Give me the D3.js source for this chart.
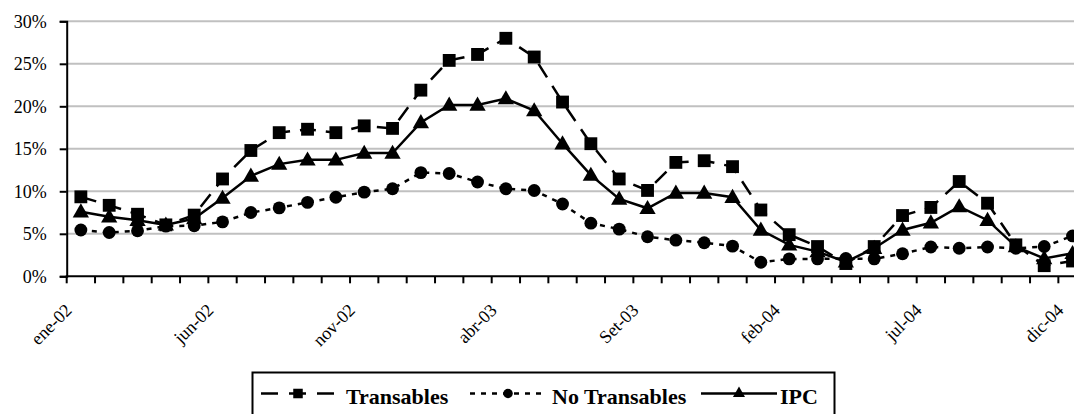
<!DOCTYPE html>
<html><head><meta charset="utf-8">
<script src="https://cdn.jsdelivr.net/npm/d3@7"></script>
<style>
html,body{margin:0;padding:0;background:#fff;overflow:hidden;}
svg{display:block;}
svg text{font-family:"Liberation Serif","Times New Roman",serif !important;fill:#000;}
</style></head>
<body>
<svg id="chart" width="1074" height="414"></svg>
<script>
const categories = ["ene-02","feb-02","mar-02","abr-02","may-02","jun-02","jul-02","ago-02","set-02","oct-02","nov-02","dic-02",
  "ene-03","feb-03","mar-03","abr-03","may-03","jun-03","jul-03","ago-03","Set-03","oct-03","nov-03","dic-03",
  "ene-04","feb-04","mar-04","abr-04","may-04","jun-04","jul-04","ago-04","set-04","oct-04","nov-04","dic-04"];
const shownLabels = ["ene-02","jun-02","nov-02","abr-03","Set-03","feb-04","jul-04","dic-04"];
const transables = [9.35,8.35,7.3,6.05,7.2,11.45,14.8,16.9,17.3,16.9,17.7,17.4,21.9,25.4,26.1,28.0,25.8,20.5,15.6,11.45,10.1,13.4,13.6,12.9,7.8,4.9,3.5,1.5,3.5,7.15,8.1,11.15,8.6,3.7,1.25,1.8];
const noTransables = [5.45,5.15,5.35,5.9,5.95,6.4,7.5,8.05,8.7,9.3,9.9,10.3,12.2,12.1,11.1,10.3,10.1,8.5,6.25,5.55,4.65,4.25,3.95,3.55,1.65,2.05,2.05,2.1,2.05,2.65,3.45,3.3,3.45,3.3,3.5,4.75];
const ipc = [7.6,7.0,6.6,6.05,6.8,9.2,11.8,13.2,13.7,13.7,14.5,14.5,18.1,20.15,20.15,20.9,19.5,15.6,11.9,9.1,8.0,9.8,9.8,9.3,5.45,3.7,2.9,1.7,3.3,5.45,6.3,8.2,6.6,3.5,2.1,2.7];
const yTicks = [0,5,10,15,20,25,30];
const seriesNames = ["Transables","No Transables","IPC"];

const FONT = '"Liberation Serif", "Times New Roman", serif';
const svg = d3.select("#chart");
const pLeft = 66.7, pRight = 1086.7, pTop = 21.3, pBottom = 276.3;
const x = d3.scaleBand().domain(d3.range(categories.length)).range([pLeft, pRight]).padding(0);
const y = d3.scaleLinear().domain([0, 30]).range([pBottom, pTop]);
const cx = i => x(i) + x.bandwidth() / 2;

// gridlines
svg.append("g").selectAll("line").data(yTicks.filter(d => d > 0)).join("line")
  .attr("x1", pLeft).attr("x2", pRight).attr("y1", d => y(d)).attr("y2", d => y(d))
  .attr("stroke", "#c0c0c0").attr("stroke-width", 2);

// y axis
const yAxis = svg.append("g").attr("transform", `translate(${pLeft},0)`)
  .call(d3.axisLeft(y).tickValues(yTicks).tickFormat(d => d + "%").tickSize(7).tickPadding(13));
yAxis.attr("font-family", FONT).attr("font-size", 18);
yAxis.select(".domain").attr("stroke", "#000").attr("stroke-width", 2);
yAxis.selectAll(".tick line").attr("stroke", "#000").attr("stroke-width", 2);
yAxis.selectAll(".tick text").style("font-size", "18px").style("font-family", FONT).attr("dy", "0.33em");

// x axis line
svg.append("line").attr("x1", pLeft - 1).attr("x2", pRight).attr("y1", pBottom).attr("y2", pBottom)
  .attr("stroke", "#000").attr("stroke-width", 2);
// x ticks at band boundaries
svg.append("g").selectAll("line").data(d3.range(categories.length + 1)).join("line")
  .attr("x1", i => pLeft + i * x.bandwidth()).attr("x2", i => pLeft + i * x.bandwidth())
  .attr("y1", pBottom).attr("y2", pBottom + 7).attr("stroke", "#000").attr("stroke-width", 2);
// x labels
svg.append("g").selectAll("text").data(categories.map((c, i) => ({c, i})).filter(d => shownLabels.includes(d.c))).join("text")
  .attr("transform", d => `translate(${cx(d.i) - 8},${pBottom + 35}) rotate(-45)`)
  .attr("text-anchor", "end").style("font-size", "18px").style("font-family", FONT).text(d => d.c);

// lines
const line = d3.line().x((d, i) => cx(i)).y(d => y(d));
const styles = [
  {data: transables, dash: "16,10", marker: "square"},
  {data: noTransables, dash: "5,6", marker: "circle"},
  {data: ipc, dash: null, marker: "triangle"}
];
const symType = {square: d3.symbolSquare, circle: d3.symbolCircle, triangle: d3.symbolTriangle};
const symSize = {square: 165, circle: 130, triangle: 115};

styles.forEach(s => {
  svg.append("path").datum(s.data).attr("d", line).attr("fill", "none")
    .attr("stroke", "#000").attr("stroke-width", 2.5).attr("stroke-dasharray", s.dash);
});
styles.forEach(s => {
  svg.append("g").selectAll("path").data(s.data).join("path")
    .attr("d", d3.symbol().type(symType[s.marker]).size(symSize[s.marker]))
    .attr("transform", (d, i) => `translate(${cx(i)},${y(d) + (s.marker === "triangle" ? 1 : 0)})`)
    .attr("fill", "#000");
});

// legend
const lg = svg.append("g");
lg.append("rect").attr("x", 252.5).attr("y", 372.5).attr("width", 582).attr("height", 60)
  .attr("fill", "#fff").attr("stroke", "#000").attr("stroke-width", 2);
const legendItems = [
  {name: seriesNames[0], x0: 261, x1: 335, tx: 346, dash: "17,11", marker: "square"},
  {name: seriesNames[1], x0: 470, x1: 546, tx: 552, dash: "5,6", marker: "circle"},
  {name: seriesNames[2], x0: 701, x1: 777, tx: 780, dash: null, marker: "triangle"}
];
const ly = 393.5;
legendItems.forEach(it => {
  lg.append("line").attr("x1", it.x0).attr("x2", it.x1).attr("y1", ly).attr("y2", ly)
    .attr("stroke", "#000").attr("stroke-width", 2.5).attr("stroke-dasharray", it.dash);
  lg.append("path").attr("d", d3.symbol().type(symType[it.marker]).size(symSize[it.marker] * 0.55))
    .attr("transform", `translate(${(it.x0 + it.x1) / 2},${ly})`).attr("fill", "#000");
  lg.append("text").attr("x", it.tx).attr("y", ly + 10).style("font-size", "22px").style("font-weight", "bold")
    .style("font-family", FONT).text(it.name);
});
</script>
</body></html>
